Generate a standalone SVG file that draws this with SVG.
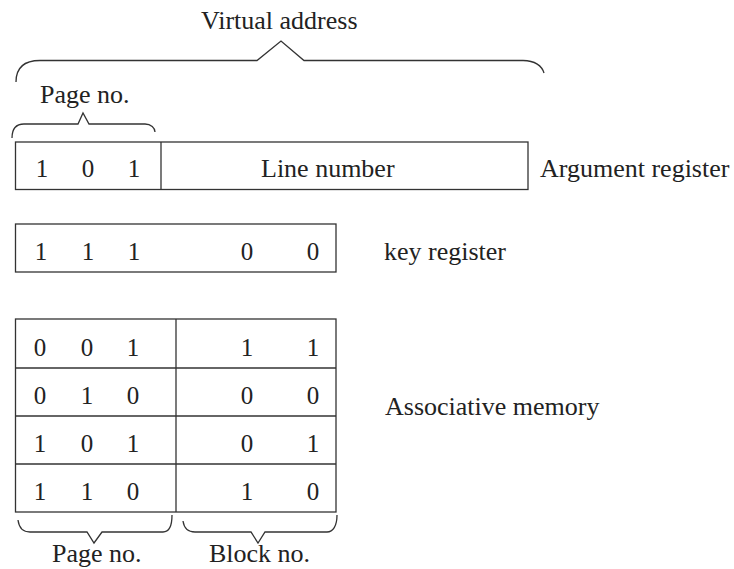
<svg xmlns="http://www.w3.org/2000/svg" width="734" height="569" viewBox="0 0 734 569">
<style>
.box{fill:none;stroke:#333;stroke-width:1.3}
.br{fill:none;stroke:#333;stroke-width:1.3;stroke-linejoin:miter}
text{font-family:"Liberation Serif","Times New Roman",serif;font-size:26px;fill:#222}
.d{font-size:25px;text-anchor:middle}
</style>
<rect width="734" height="569" fill="#fff"/>
<g id="connectors">
<path class="br" d="M16,82 C16,68 24,60.5 40,60.5 L257,60.5 L281,41 L304,60.5 L523,60.5 C535,60.5 542,66 544,73"/>
<path class="br" d="M12,138 C12,129 16,124 24,124 L78,124 L83,113 L89,124 L145,124 C151,124 155,128 155,132"/>
<path class="br" d="M18,520 C19,528 23,532 30,532 L87,532 L94,543 L102,532 L163,532 C169,532 172,526 172,515"/>
<path class="br" d="M183,521 C184,528 188,532 195,532 L251,532 L258,543 L265,532 L327,532 C333,532 337,526 337,515"/>
</g>
<g id="virtual-address-label"><text x="201" y="29">Virtual address</text></g>
<g id="page-no-top"><text x="40" y="103">Page no.</text></g>
<g id="argument-register">
<rect class="box" x="15.5" y="142" width="512.5" height="47.5"/>
<line class="box" x1="161" y1="142" x2="161" y2="189.5"/>
<text class="d" x="42" y="177">1</text>
<text class="d" x="88" y="177">0</text>
<text class="d" x="134" y="177">1</text>
<text x="261" y="177">Line number</text>
<text x="540" y="177">Argument register</text>
</g>
<g id="key-register">
<rect class="box" x="15.5" y="224" width="320.5" height="48"/>
<text class="d" x="41" y="260">1</text>
<text class="d" x="88" y="260">1</text>
<text class="d" x="134" y="260">1</text>
<text class="d" x="247" y="260">0</text>
<text class="d" x="313" y="260">0</text>
<text x="384" y="260">key register</text>
</g>
<g id="associative-memory">
<rect class="box" x="15.5" y="319" width="320.5" height="193"/>
<line class="box" x1="176" y1="319" x2="176" y2="512"/>
<line class="box" x1="15.5" y1="368" x2="336" y2="368"/>
<line class="box" x1="15.5" y1="416" x2="336" y2="416"/>
<line class="box" x1="15.5" y1="464" x2="336" y2="464"/>
<text class="d" x="40" y="356">0</text><text class="d" x="87" y="356">0</text><text class="d" x="133" y="356">1</text><text class="d" x="247" y="356">1</text><text class="d" x="313" y="356">1</text>
<text class="d" x="40" y="404">0</text><text class="d" x="87" y="404">1</text><text class="d" x="133" y="404">0</text><text class="d" x="247" y="404">0</text><text class="d" x="313" y="404">0</text>
<text class="d" x="40" y="452">1</text><text class="d" x="87" y="452">0</text><text class="d" x="133" y="452">1</text><text class="d" x="247" y="452">0</text><text class="d" x="313" y="452">1</text>
<text class="d" x="40" y="500">1</text><text class="d" x="87" y="500">1</text><text class="d" x="133" y="500">0</text><text class="d" x="247" y="500">1</text><text class="d" x="313" y="500">0</text>
<text x="385" y="415">Associative memory</text>
</g>
<g id="page-no-bottom"><text x="52" y="562">Page no.</text></g>
<g id="block-no"><text x="209" y="562">Block no.</text></g>
</svg>
